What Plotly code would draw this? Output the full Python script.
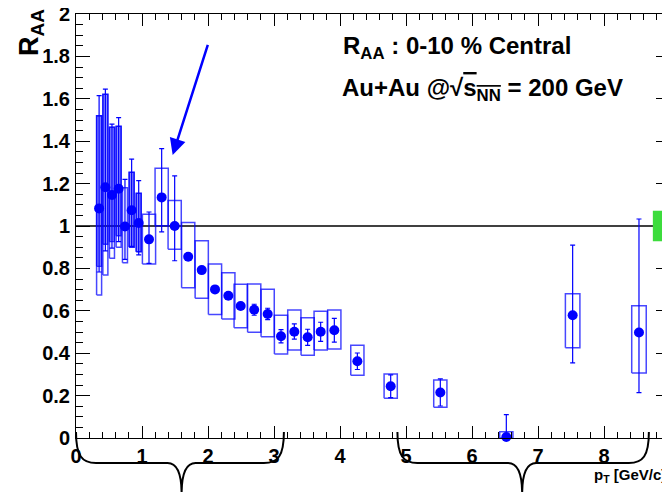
import plotly.graph_objects as go

# ---------------- data ----------------
pt = [0.35, 0.445, 0.545, 0.646, 0.742, 0.843, 0.95, 1.106, 1.298, 1.495,
      1.70, 1.905, 2.106, 2.308, 2.495, 2.70, 2.904, 3.106, 3.308, 3.51,
      3.707, 3.914, 4.263, 4.768, 5.52, 6.52, 7.525, 8.53]
raa = [1.083, 1.183, 1.146, 1.176, 0.998, 1.074, 1.014, 0.937, 1.135, 1.0,
       0.855, 0.792, 0.701, 0.671, 0.623, 0.605, 0.585, 0.48, 0.501, 0.475,
       0.501, 0.508, 0.362, 0.244, 0.215, 0.005, 0.579, 0.498]
stat_up = [0.532, 0.463, 0.335, 0.335, 0.222, 0.241, 0.20, 0.129, 0.23, 0.236,
           0.01, 0.01, 0.01, 0.012, 0.012, 0.026, 0.027, 0.031, 0.037, 0.038,
           0.045, 0.056, 0.039, 0.054, 0.064, 0.105, 0.331, 0.535]
stat_dn = [0.30, 0.30, 0.25, 0.25, 0.155, 0.17, 0.15, 0.113, 0.163, 0.164,
           0.01, 0.01, 0.01, 0.012, 0.012, 0.026, 0.027, 0.031, 0.035, 0.038,
           0.045, 0.056, 0.039, 0.054, 0.064, 0.0, 0.225, 0.284]
sys_lo = [0.675, 0.769, 0.848, 0.90, 0.827, 0.90, 0.879, 0.821, 1.001, 0.89,
          0.709, 0.659, 0.583, 0.561, 0.520, 0.499, 0.478, 0.396, 0.415, 0.39,
          0.415, 0.42, 0.296, 0.187, 0.145, 0.0, 0.426, 0.307]
sys_hi = [1.52, 1.621, 1.466, 1.47, 1.181, 1.253, 1.154, 1.055, 1.272, 1.12,
          1.016, 0.931, 0.821, 0.780, 0.725, 0.726, 0.702, 0.579, 0.604, 0.567,
          0.598, 0.604, 0.437, 0.302, 0.274, 0.03, 0.681, 0.624]
box_hw = [0.038] * 7 + [0.1] * 19 + [0.11] * 2
# shaded (filled) bands on the lowest-pT points
fill_lo = [0.81, 0.914, 0.926, 0.954, None, 0.901, 0.879]
fill_hi = [1.52, 1.621, 1.466, 1.47, None, 1.253, 1.154]

# normalisation band at RAA = 1
norm_x = [8.74, 9.0]
norm_y = [0.928, 1.072]

# braces below the axis (in pT units)
braces = [(0.0, 1.6, 3.15), (4.87, 6.76, 8.68)]

X_RANGE = [0, 9]
Y_RANGE = [0, 2]

BLUE = "#0000ff"
BOX_COL = "rgba(0,0,255,0.72)"
FILL_COL = "rgba(0,0,255,0.45)"

# page offset (the html body has an 8px margin)
OFF = 8


def rect_path(xc, hw, lo, hi):
    return [xc - hw, xc + hw, xc + hw, xc - hw, xc - hw, None], [lo, lo, hi, hi, lo, None]


fx, fy = [], []
for i in range(len(fill_lo)):
    if fill_lo[i] is None:
        continue
    a, b = rect_path(pt[i], box_hw[i], fill_lo[i], fill_hi[i])
    fx += a
    fy += b

bx, by = [], []
for i in range(len(pt)):
    a, b = rect_path(pt[i], box_hw[i], sys_lo[i], sys_hi[i])
    bx += a
    by += b

fig = go.Figure()
fig.add_trace(go.Scatter(x=fx, y=fy, mode="lines", fill="toself",
                         fillcolor=FILL_COL, line=dict(color=BOX_COL, width=1.3),
                         hoverinfo="skip", showlegend=False))
fig.add_trace(go.Scatter(x=bx, y=by, mode="lines",
                         line=dict(color=BOX_COL, width=1.5),
                         hoverinfo="skip", showlegend=False))
fig.add_trace(go.Scatter(
    x=pt, y=raa, mode="markers",
    marker=dict(color=BLUE, size=10, symbol="circle"),
    error_y=dict(type="data", symmetric=False, array=stat_up, arrayminus=stat_dn,
                 color=BLUE, thickness=1.2, width=2.5),
    cliponaxis=False, showlegend=False))

shapes = []
# green normalisation box
shapes.append(dict(type="rect", xref="x", yref="y", x0=norm_x[0], x1=norm_x[1],
                   y0=norm_y[0], y1=norm_y[1], fillcolor="#3cdc3c",
                   line=dict(width=0), layer="above"))
# unity line
shapes.append(dict(type="line", xref="x", yref="y", x0=X_RANGE[0], x1=X_RANGE[1],
                   y0=1, y1=1, line=dict(color="black", width=1.3), layer="below"))

# plot area size in pixels
W = 594.0
H = 424.0
PL, PT_ = 76, 14  # plot left/top in page pixels


def px(xv):
    return (xv - X_RANGE[0]) / (X_RANGE[1] - X_RANGE[0])


def py(dy):  # dy = pixels below the axis
    return -dy / H


for (a, m, b) in braces:
    xa, xm, xb = px(a), px(m), px(b)
    d = 20.0 / W
    c = 14.0 / W
    ytop, ymid, ybot = py(-6), py(25), py(56)
    path = (f"M {xa},{ytop} C {xa},{py(18)} {xa + 0.3*d},{ymid} {xa + d},{ymid} "
            f"L {xm - c},{ymid} C {xm - 0.3*c},{ymid} {xm},{py(36)} {xm},{ybot} "
            f"C {xm},{py(36)} {xm + 0.3*c},{ymid} {xm + c},{ymid} "
            f"L {xb - d},{ymid} C {xb - 0.3*d},{ymid} {xb},{py(18)} {xb},{ytop}")
    shapes.append(dict(type="path", xref="paper", yref="paper", path=path,
                       line=dict(color="black", width=2)))


def pxp(x):  # page pixel -> paper x
    return (x - PL) / W


def pyp(y):  # page pixel -> paper y
    return (PT_ + H - y) / H


FONT = "Liberation Sans"
annotations = [
    dict(xref="paper", yref="paper", x=pxp(341), y=pyp(47),
         xanchor="left", yanchor="middle", showarrow=False,
         text="R<sub>AA</sub> : 0-10 % Central",
         font=dict(family=FONT, size=24, color="black", weight="bold")),
    dict(xref="paper", yref="paper", x=pxp(340), y=pyp(90),
         xanchor="left", yanchor="middle", showarrow=False,
         text="Au+Au @√<span style='text-decoration:overline'>s<sub>NN</sub></span> = 200 GeV",
         font=dict(family=FONT, size=24, color="black", weight="bold")),
    dict(xref="paper", yref="paper", x=pxp(31), y=pyp(33),
         xanchor="center", yanchor="middle", showarrow=False, textangle=-90,
         text="R<sub>AA</sub>",
         font=dict(family=FONT, size=27, color="black", weight="bold")),
    dict(xref="paper", yref="paper", x=pxp(668), y=pyp(476),
         xanchor="right", yanchor="middle", showarrow=False,
         text="p<sub>T</sub> [GeV/c]",
         font=dict(family=FONT, size=15, color="black", weight="bold")),
    dict(xref="x", yref="y", x=1.465, y=1.335, ax=35.6, ay=-111.7,
         axref="pixel", ayref="pixel", text="", showarrow=True,
         arrowhead=2, arrowsize=1.3, arrowwidth=2.5, arrowcolor=BLUE),
]

tickfont = dict(family=FONT, size=20, color="black", weight="bold")
fig.update_layout(
    width=670 - OFF, height=492 - OFF,
    margin=dict(l=PL - OFF, r=0, t=PT_ - OFF, b=492 - (PT_ + int(H))),
    paper_bgcolor="white", plot_bgcolor="white",
    shapes=shapes, annotations=annotations,
    xaxis=dict(range=X_RANGE, dtick=1, tick0=0, ticks="inside", ticklen=12,
               tickcolor="black", showline=True, linecolor="black", linewidth=1,
               mirror="ticks", showgrid=False, zeroline=False, tickfont=tickfont,
               automargin=False, ticklabeloverflow="allow",
               minor=dict(dtick=0.2, ticks="inside", ticklen=6, tickcolor="black",
                          showgrid=False)),
    yaxis=dict(range=Y_RANGE, dtick=0.2, tick0=0, ticks="inside", ticklen=14,
               tickcolor="black", showline=True, linecolor="black", linewidth=1,
               mirror="ticks", showgrid=False, zeroline=False, tickfont=tickfont,
               ticklabelstandoff=1, automargin=False, ticklabeloverflow="allow",
               minor=dict(dtick=0.05, ticks="inside", ticklen=7, tickcolor="black",
                          showgrid=False)),
)

fig.write_html("out.html")
